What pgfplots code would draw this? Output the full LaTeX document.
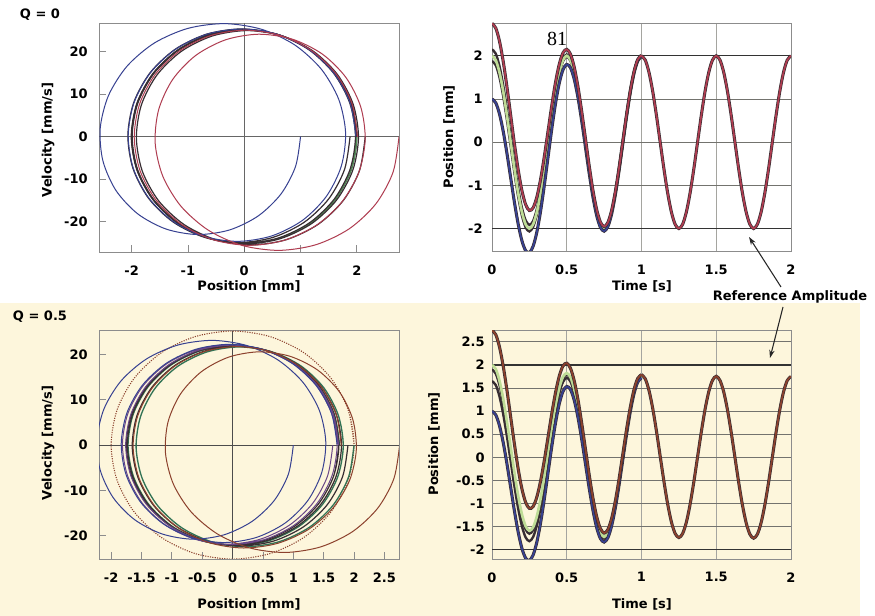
\documentclass[border=0pt]{standalone}
\usepackage{pgfplots}
\pgfplotsset{compat=1.18}
\usepackage{pgfplotstable}
\usepackage{fontspec}
\setmainfont{DejaVu Sans}
\newfontfamily\serifnum{Liberation Serif}
\usetikzlibrary{arrows.meta}

\definecolor{cream}{RGB}{253,246,220}
\definecolor{tred}{RGB}{175,60,80}
\definecolor{tblue}{RGB}{55,65,145}
\definecolor{tgreen}{RGB}{80,145,85}
\definecolor{lgreen}{RGB}{190,220,150}
\definecolor{bred}{RGB}{140,65,45}
\definecolor{bpurp}{RGB}{105,70,135}
\definecolor{dgreen}{RGB}{50,115,85}
\definecolor{outl}{RGB}{55,45,50}
\definecolor{framec}{RGB}{140,140,140}
\definecolor{gridh}{RGB}{115,115,110}
\definecolor{gridv}{RGB}{165,165,160}

\newcommand\lbl{\fontsize{9.75pt}{11pt}\selectfont\bfseries}

% Q = 0 transients: t, red, green(steady), blue, black a, black c (position x and velocity v)
\pgfplotstableread{
t xr vr xg vg xb vb xa va xc vc
0.000 2.750 0.00 2.000 0.00 1.000 0.00 2.150 0.00 1.880 0.00
0.025 2.644 -8.35 1.902 -7.77 0.912 -7.00 2.050 -7.89 1.783 -7.68
0.050 2.340 -15.77 1.618 -14.77 0.655 -13.44 1.762 -14.97 1.502 -14.61
0.075 1.869 -21.62 1.176 -20.33 0.251 -18.61 1.315 -20.59 1.065 -20.12
0.100 1.277 -25.38 0.618 -23.90 -0.260 -21.92 0.750 -24.20 0.513 -23.66
0.125 0.620 -26.72 0.000 -25.13 -0.827 -23.00 0.124 -25.45 -0.099 -24.88
0.150 -0.039 -25.55 -0.618 -23.90 -1.391 -21.70 -0.502 -24.23 -0.711 -23.64
0.175 -0.638 -21.98 -1.176 -20.33 -1.893 -18.13 -1.068 -20.66 -1.262 -20.07
0.200 -1.121 -16.40 -1.618 -14.77 -2.281 -12.60 -1.519 -15.10 -1.698 -14.51
0.225 -1.445 -9.35 -1.902 -7.77 -2.511 -5.67 -1.811 -8.09 -1.975 -7.52
0.250 -1.582 -1.51 -2.000 0.00 -2.558 2.01 -1.916 -0.30 -2.067 0.24
0.275 -1.520 6.34 -1.902 7.77 -2.411 9.67 -1.826 7.49 -1.963 8.00
0.300 -1.271 13.43 -1.618 14.77 -2.081 16.56 -1.549 14.50 -1.674 14.98
0.325 -0.861 19.08 -1.176 20.33 -1.596 22.00 -1.113 20.08 -1.226 20.53
0.350 -0.333 22.74 -0.618 23.90 -0.998 25.44 -0.561 23.67 -0.664 24.09
0.375 0.257 24.06 0.000 25.13 -0.343 26.55 0.051 24.92 -0.041 25.30
0.400 0.849 22.92 0.618 23.90 0.310 25.21 0.664 23.70 0.581 24.06
0.425 1.384 19.43 1.176 20.33 0.899 21.53 1.218 20.15 1.143 20.47
0.450 1.804 13.95 1.618 14.77 1.369 15.86 1.655 14.61 1.588 14.90
0.475 2.069 7.03 1.902 7.77 1.679 8.76 1.935 7.62 1.875 7.89
0.500 2.149 -0.67 2.000 0.00 1.801 0.90 2.030 -0.13 1.976 0.11
0.525 2.036 -8.38 1.902 -7.77 1.724 -6.96 1.929 -7.89 1.881 -7.67
0.550 1.737 -15.32 1.618 -14.77 1.459 -14.04 1.642 -14.88 1.599 -14.68
0.575 1.282 -20.82 1.176 -20.33 1.035 -19.67 1.197 -20.43 1.159 -20.25
0.600 0.712 -24.34 0.618 -23.90 0.492 -23.31 0.637 -23.99 0.603 -23.83
0.625 0.084 -25.53 0.000 -25.13 -0.112 -24.60 0.017 -25.21 -0.013 -25.07
0.650 -0.544 -24.25 -0.618 -23.90 -0.717 -23.43 -0.603 -23.97 -0.630 -23.84
0.675 -1.110 -20.65 -1.176 -20.33 -1.264 -19.91 -1.163 -20.39 -1.187 -20.28
0.700 -1.559 -15.05 -1.618 -14.77 -1.696 -14.39 -1.606 -14.83 -1.627 -14.72
0.725 -1.850 -8.02 -1.902 -7.77 -1.971 -7.43 -1.892 -7.82 -1.910 -7.73
0.750 -1.954 -0.23 -2.000 0.00 -2.061 0.30 -1.991 -0.05 -2.007 0.04
0.775 -1.861 7.57 -1.902 7.77 -1.956 8.04 -1.894 7.73 -1.908 7.80
0.800 -1.582 14.59 -1.618 14.77 -1.666 15.01 -1.611 14.73 -1.624 14.80
0.825 -1.144 20.17 -1.176 20.33 -1.218 20.54 -1.170 20.30 -1.181 20.36
0.850 -0.590 23.76 -0.618 23.90 -0.655 24.09 -0.612 23.87 -0.622 23.92
0.875 0.024 25.01 0.000 25.13 -0.033 25.29 0.005 25.11 -0.004 25.15
0.900 0.640 23.79 0.618 23.90 0.589 24.05 0.622 23.88 0.615 23.92
0.925 1.195 20.23 1.176 20.33 1.151 20.46 1.180 20.31 1.173 20.35
0.950 1.635 14.69 1.618 14.77 1.596 14.88 1.621 14.75 1.615 14.78
0.975 1.917 7.69 1.902 7.77 1.882 7.87 1.905 7.75 1.900 7.78
1.000 2.013 -0.07 2.000 0.00 1.983 0.09 2.003 -0.01 1.998 0.01
}\tabQa

% Q = 0 steady state (reference amplitude 2 mm)
\pgfplotstableread{
t x v
1.000 2.000 0.00
1.025 1.902 -7.77
1.050 1.618 -14.77
1.075 1.176 -20.33
1.100 0.618 -23.90
1.125 0.000 -25.13
1.150 -0.618 -23.90
1.175 -1.176 -20.33
1.200 -1.618 -14.77
1.225 -1.902 -7.77
1.250 -2.000 0.00
1.275 -1.902 7.77
1.300 -1.618 14.77
1.325 -1.176 20.33
1.350 -0.618 23.90
1.375 0.000 25.13
1.400 0.618 23.90
1.425 1.176 20.33
1.450 1.618 14.77
1.475 1.902 7.77
1.500 2.000 0.00
1.525 1.902 -7.77
1.550 1.618 -14.77
1.575 1.176 -20.33
1.600 0.618 -23.90
1.625 0.000 -25.13
1.650 -0.618 -23.90
1.675 -1.176 -20.33
1.700 -1.618 -14.77
1.725 -1.902 -7.77
1.750 -2.000 0.00
1.775 -1.902 7.77
1.800 -1.618 14.77
1.825 -1.176 20.33
1.850 -0.618 23.90
1.875 0.000 25.13
1.900 0.618 23.90
1.925 1.176 20.33
1.950 1.618 14.77
1.975 1.902 7.77
2.000 2.000 0.00
}\tabQas

% Q = 0.5 transients
\pgfplotstableread{
t xr vr xg vg xb vb xa va xc vc
0.000 2.750 0.00 2.000 0.00 1.000 0.00 1.900 0.00 1.650 0.00
0.025 2.657 -7.35 1.912 -6.94 0.919 -6.39 1.813 -6.88 1.565 -6.75
0.050 2.390 -13.90 1.659 -13.17 0.686 -12.20 1.562 -13.08 1.319 -12.83
0.075 1.974 -19.08 1.265 -18.11 0.320 -16.82 1.171 -17.98 0.934 -17.66
0.100 1.451 -22.43 0.768 -21.29 -0.141 -19.77 0.677 -21.14 0.450 -20.76
0.125 0.870 -23.66 0.217 -22.41 -0.652 -20.74 0.130 -22.24 -0.087 -21.82
0.150 0.286 -22.68 -0.334 -21.35 -1.161 -19.58 -0.417 -21.18 -0.624 -20.73
0.175 -0.247 -19.61 -0.834 -18.25 -1.615 -16.42 -0.912 -18.06 -1.107 -17.61
0.200 -0.680 -14.77 -1.232 -13.39 -1.968 -11.55 -1.306 -13.21 -1.490 -12.75
0.225 -0.974 -8.63 -1.491 -7.26 -2.182 -5.43 -1.560 -7.07 -1.733 -6.62
0.250 -1.105 -1.79 -1.589 -0.45 -2.233 1.34 -1.653 -0.27 -1.814 0.18
0.275 -1.064 5.06 -1.514 6.37 -2.114 8.10 -1.574 6.54 -1.724 6.97
0.300 -0.858 11.26 -1.277 12.51 -1.834 14.19 -1.332 12.68 -1.472 13.10
0.325 -0.512 16.19 -0.900 17.39 -1.417 18.99 -0.951 17.55 -1.081 17.95
0.350 -0.063 19.39 -0.421 20.53 -0.900 22.05 -0.469 20.68 -0.589 21.06
0.375 0.441 20.55 0.110 21.63 -0.331 23.07 0.066 21.77 -0.044 22.13
0.400 0.947 19.56 0.642 20.57 0.237 21.93 0.602 20.71 0.500 21.05
0.425 1.402 16.52 1.122 17.47 0.749 18.74 1.085 17.60 0.992 17.92
0.450 1.759 11.74 1.502 12.63 1.159 13.82 1.467 12.75 1.382 13.05
0.475 1.978 5.70 1.742 6.52 1.429 7.63 1.711 6.63 1.633 6.91
0.500 2.037 -1.03 1.822 -0.26 1.534 0.77 1.793 -0.15 1.721 0.10
0.525 1.927 -7.75 1.730 -7.04 1.467 -6.09 1.703 -6.94 1.638 -6.71
0.550 1.656 -13.81 1.476 -13.15 1.236 -12.27 1.452 -13.06 1.392 -12.84
0.575 1.248 -18.60 1.084 -17.99 0.865 -17.18 1.062 -17.91 1.007 -17.71
0.600 0.740 -21.66 0.591 -21.10 0.392 -20.35 0.571 -21.02 0.521 -20.84
0.625 0.181 -22.68 0.045 -22.16 -0.136 -21.48 0.027 -22.09 -0.018 -21.92
0.650 -0.376 -21.54 -0.500 -21.07 -0.665 -20.44 -0.516 -21.00 -0.557 -20.85
0.675 -0.879 -18.37 -0.992 -17.93 -1.141 -17.36 -1.007 -17.88 -1.044 -17.73
0.700 -1.280 -13.46 -1.382 -13.06 -1.518 -12.53 -1.396 -13.01 -1.430 -12.88
0.725 -1.541 -7.28 -1.633 -6.92 -1.756 -6.44 -1.646 -6.87 -1.676 -6.75
0.750 -1.638 -0.44 -1.722 -0.11 -1.834 0.33 -1.733 -0.07 -1.761 0.04
0.775 -1.563 6.40 -1.639 6.70 -1.740 7.10 -1.649 6.74 -1.674 6.84
0.800 -1.324 12.56 -1.393 12.84 -1.485 13.20 -1.402 12.88 -1.425 12.97
0.825 -0.946 17.46 -1.008 17.71 -1.091 18.04 -1.017 17.74 -1.037 17.82
0.850 -0.466 20.61 -0.522 20.83 -0.597 21.14 -0.530 20.86 -0.549 20.94
0.875 0.068 21.71 0.017 21.92 -0.051 22.20 0.010 21.95 -0.007 22.02
0.900 0.602 20.66 0.556 20.85 0.495 21.10 0.550 20.87 0.535 20.93
0.925 1.084 17.56 1.043 17.73 0.988 17.96 1.037 17.76 1.023 17.81
0.950 1.466 12.72 1.429 12.88 1.379 13.09 1.424 12.90 1.411 12.95
0.975 1.709 6.62 1.675 6.75 1.630 6.94 1.671 6.77 1.660 6.82
1.000 1.790 -0.17 1.760 -0.04 1.720 0.13 1.756 -0.03 1.746 0.02
}\tabQb

% Q = 0.5 steady state with red tail
\pgfplotstableread{
t x v xr
1.000 1.750 0.00 1.790
1.025 1.664 -6.80 1.700
1.050 1.416 -12.93 1.449
1.075 1.029 -17.79 1.059
1.100 0.541 -20.91 0.568
1.125 0.000 -21.99 0.024
1.150 -0.541 -20.91 -0.519
1.175 -1.029 -17.79 -1.010
1.200 -1.416 -12.93 -1.399
1.225 -1.664 -6.80 -1.648
1.250 -1.750 0.00 -1.736
1.275 -1.664 6.80 -1.651
1.300 -1.416 12.93 -1.405
1.325 -1.029 17.79 -1.019
1.350 -0.541 20.91 -0.532
1.375 0.000 21.99 0.008
1.400 0.541 20.91 0.548
1.425 1.029 17.79 1.035
1.450 1.416 12.93 1.421
1.475 1.664 6.80 1.668
1.500 1.750 0.00 1.754
1.525 1.664 -6.80 1.664
1.550 1.416 -12.93 1.416
1.575 1.029 -17.79 1.029
1.600 0.541 -20.91 0.541
1.625 0.000 -21.99 0.000
1.650 -0.541 -20.91 -0.541
1.675 -1.029 -17.79 -1.029
1.700 -1.416 -12.93 -1.416
1.725 -1.664 -6.80 -1.664
1.750 -1.750 0.00 -1.750
1.775 -1.664 6.80 -1.664
1.800 -1.416 12.93 -1.416
1.825 -1.029 17.79 -1.029
1.850 -0.541 20.91 -0.541
1.875 0.000 21.99 0.000
1.900 0.541 20.91 0.541
1.925 1.029 17.79 1.029
1.950 1.416 12.93 1.416
1.975 1.664 6.80 1.664
2.000 1.750 0.00 1.750
}\tabQbs

\pgfplotsset{
  base/.style={scale only axis, anchor=south west,
    axis line style={framec, line width=0.6pt},
    tick style={framec, line width=0.6pt},
    tick align=inside, xtick pos=left, ytick pos=left,
    major tick length=5pt,
    ticklabel style={font=\lbl}},
  phase/.style={base, width=225pt},
  tser/.style={base, width=224.25pt, xmin=0, xmax=2,
    major tick length=0pt, xmajorgrids, ymajorgrids,
    x grid style={gridv, line width=0.6pt},
    y grid style={gridh, line width=0.7pt},
    xtick={0,0.5,1,1.5,2}, xticklabels={0,0.5,1,1.5,2}},
  ol/.style={outl, line width=2.3pt, smooth},
  pl/.style={line width=0.75pt, smooth},
}

\begin{document}
\begin{tikzpicture}[x=0.75pt,y=0.75pt]
\useasboundingbox (0,0) rectangle (875,616);
\fill[white] (0,0) rectangle (875,616);
\fill[cream] (0,0) rectangle (860,313);

% ---------- Q = 0, phase plot ----------
\begin{axis}[phase, at={(74.25pt,273pt)}, height=171.75pt,
  xmin=-2.58, xmax=2.75, ymin=-27.1, ymax=26.7,
  xtick={-2,-1,0,1,2}, xticklabels={-2,-1,0,1,2},
  ytick={-20,-10,0,10,20}, yticklabels={-20,-10,0,10,20},
  xticklabel style={yshift=-7pt}, yticklabel style={xshift=-5pt}]
\draw[gray!80!black, line width=0.6pt] (axis cs:0,-27.1) -- (axis cs:0,26.7);
\draw[gray!80!black, line width=0.6pt] (axis cs:-2.58,0) -- (axis cs:2.75,0);
\addplot[pl, outl, line width=0.9pt] table[x=x, y=v]{\tabQas};
\addplot[pl, tgreen] table[x=xg, y=vg]{\tabQa};
\addplot[pl, outl, line width=0.9pt] table[x=xa, y=va]{\tabQa};
\addplot[pl, outl, line width=0.9pt] table[x=xc, y=vc]{\tabQa};
\addplot[pl, tblue] table[x=xb, y=vb]{\tabQa};
\addplot[pl, tred] table[x=xr, y=vr]{\tabQa};
\end{axis}

% ---------- Q = 0, time series ----------
\begin{axis}[tser, at={(369pt,273.75pt)}, height=171pt,
  ymin=-2.52, ymax=2.76,
  ytick={-2,-1,0,1,2}, yticklabels={-2,-1,0,1,2},
  xticklabel style={yshift=-7pt}, yticklabel style={xshift=-3.5pt}]
\draw[black!80, line width=1pt] (axis cs:0,2) -- (axis cs:2,2);
\draw[black!80, line width=1pt] (axis cs:0,-2) -- (axis cs:2,-2);
\addplot[ol, line width=1.8pt] table[x=t, y=xa]{\tabQa};
\addplot[ol, line width=1.8pt] table[x=t, y=xc]{\tabQa};
\addplot[ol] table[x=t, y=x]{\tabQas};
\addplot[lgreen, line width=2pt, smooth] table[x=t, y=xg]{\tabQa};
\addplot[ol] table[x=t, y=xb]{\tabQa};
\addplot[tblue, line width=1.3pt, smooth] table[x=t, y=xb]{\tabQa};
\addplot[ol] table[x=t, y=xr]{\tabQa};
\addplot[tred, line width=1.3pt, smooth] table[x=t, y=xr]{\tabQa};
\addplot[tred, line width=1.3pt, smooth] table[x=t, y=x]{\tabQas};
\end{axis}

% ---------- Q = 0.5, phase plot ----------
\begin{axis}[phase, at={(74.25pt,42.75pt)}, height=171.2pt,
  xmin=-2.2, xmax=2.74, ymin=-25.1, ymax=25.2,
  xtick={-2,-1.5,-1,-0.5,0,0.5,1,1.5,2,2.5},
  xticklabels={-2,-1.5,-1,-0.5,0,0.5,1,1.5,2,2.5},
  ytick={-20,-10,0,10,20}, yticklabels={-20,-10,0,10,20},
  xticklabel style={yshift=-7pt}, yticklabel style={xshift=-5pt}]
\draw[gray!60!black, line width=0.6pt] (axis cs:0,-25.1) -- (axis cs:0,25.2);
\draw[gray!60!black, line width=0.6pt] (axis cs:-2.2,0) -- (axis cs:2.74,0);
\addplot[bred, line width=0.8pt, densely dotted, smooth] table[x=x, y=v]{\tabQas};
\addplot[pl, outl, line width=0.9pt] table[x=x, y=v]{\tabQbs};
\addplot[pl, dgreen, line width=1pt] table[x=xg, y=vg]{\tabQb};
\addplot[pl, outl, line width=0.9pt] table[x=xa, y=va]{\tabQb};
\addplot[pl, bpurp] table[x=xc, y=vc]{\tabQb};
\addplot[pl, tblue] table[x=xb, y=vb]{\tabQb};
\addplot[pl, bred] table[x=xr, y=vr]{\tabQb};
\end{axis}

% ---------- Q = 0.5, time series ----------
\begin{axis}[tser, at={(369pt,42.75pt)}, height=171.2pt,
  ymin=-2.2, ymax=2.74,
  ytick={-2,-1.5,-1,-0.5,0,0.5,1,1.5,2,2.5},
  yticklabels={-2,-1.5,-1,-0.5,0,0.5,1,1.5,2,2.5},
  xticklabel style={yshift=-6.5pt}, yticklabel style={xshift=-2pt}]
\draw[black!80, line width=1pt] (axis cs:0,2) -- (axis cs:2,2);
\draw[black!80, line width=1pt] (axis cs:0,-2) -- (axis cs:2,-2);
\addplot[ol, line width=1.8pt] table[x=t, y=xa]{\tabQb};
\addplot[ol, line width=1.8pt] table[x=t, y=xc]{\tabQb};
\addplot[ol] table[x=t, y=xr]{\tabQbs};
\addplot[lgreen, line width=2pt, smooth] table[x=t, y=xg]{\tabQb};
\addplot[ol] table[x=t, y=xb]{\tabQb};
\addplot[tblue, line width=1.3pt, smooth] table[x=t, y=xb]{\tabQb};
\addplot[ol] table[x=t, y=xr]{\tabQb};
\addplot[bred, line width=1.3pt, smooth] table[x=t, y=xr]{\tabQb};
\addplot[bred, line width=1.3pt, smooth] table[x=t, y=xr]{\tabQbs};
\end{axis}

% ---------- texts ----------
\node[font=\lbl] at (40,601) {Q = 0};
\node[font=\lbl] at (40,299) {Q = 0.5};
\node[font=\lbl] at (249,330) {Position [mm]};
\node[font=\lbl, rotate=90] at (48,476) {Velocity [mm/s]};
\node[font=\lbl] at (642,330) {Time [s]};
\node[font=\lbl, rotate=90] at (449,479) {Position [mm]};
\node[font=\lbl] at (249,12) {Position [mm]};
\node[font=\lbl, rotate=90] at (48,173) {Velocity [mm/s]};
\node[font=\lbl] at (642,12) {Time [s]};
\node[font=\lbl, rotate=90] at (434,172) {Position [mm]};
\node[font=\lbl] at (790,319) {Reference Amplitude};
\node[font=\serifnum\fontsize{15pt}{17pt}\selectfont] at (557,577) {81};
\draw[black!85, line width=0.8pt, -{Stealth[length=6pt,width=4pt]}] (781,329) -- (749,379);
\draw[black!85, line width=0.8pt, -{Stealth[length=6pt,width=4pt]}] (783,309) -- (770,258);
\end{tikzpicture}
\end{document}
